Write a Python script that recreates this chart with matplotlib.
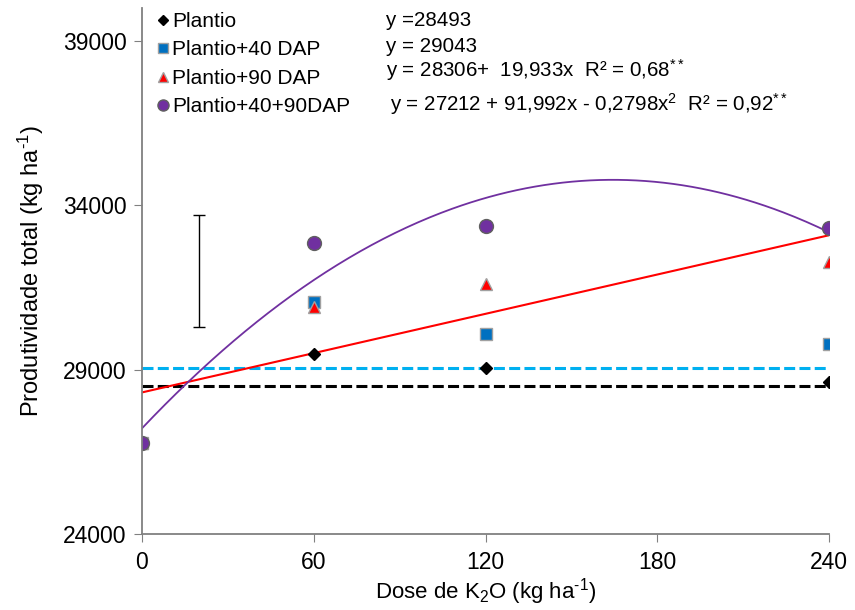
import numpy as np
import matplotlib
matplotlib.use('Agg')
from matplotlib import pyplot as plt

plt.rcParams['font.family'] = ['Liberation Sans', 'DejaVu Sans']
plt.rcParams['mathtext.fontset'] = 'custom'
plt.rcParams['mathtext.rm'] = 'Liberation Sans'
plt.rcParams['mathtext.it'] = 'Liberation Sans'

doses = [0, 60, 120, 240]
plantio = [26770, 29470, 29050, 28620]
plantio_40 = [26770, 31050, 30080, 29775]
plantio_90 = [26770, 30900, 31600, 32270]
plantio_40_90 = [26770, 32845, 33360, 33300]

labels = ['Plantio', 'Plantio+40 DAP', 'Plantio+90 DAP', 'Plantio+40+90DAP']
equations = ['y =28493',
             'y = 29043',
             'y = 28306+  19,933x  R² = 0,68$^{**}$',
             'y = 27212 + 91,992x - 0,2798x$^{2}$  R² = 0,92$^{**}$']

mean_plantio = 28493
mean_plantio_40 = 29043
lin_coef = [28306, 19.933]
quad_coef = [27212, 91.992, -0.2798]

# least significant difference bar
lsd_x = 20
lsd_center = 32000
lsd_half = 1700

gray = '#808080'

fig = plt.figure(figsize=(8.55, 6.1), dpi=100)
ax = fig.add_axes([0.166, 0.1246, 0.804, 0.8623])

xs = np.linspace(0, 240, 300)
dash = (0, (3.6, 1.4))
ax.plot([0, 240], [mean_plantio, mean_plantio], color='black', lw=2.2, ls=dash)
ax.plot([0, 240], [mean_plantio_40, mean_plantio_40], color='#00B0F0', lw=2.2, ls=dash)
ax.plot(xs, lin_coef[0] + lin_coef[1] * xs, color='#FF0000', lw=1.5)
ax.plot(xs, quad_coef[0] + quad_coef[1] * xs + quad_coef[2] * xs ** 2, color='#7030A0', lw=1.3)

ax.plot(doses, plantio, 'D', color='black', ms=6, ls='none', label=labels[0])
ax.plot(doses, plantio_40, 's', color='#0070C0', mec='#a0a0a0', ms=9, ls='none', label=labels[1])
ax.plot(doses, plantio_90, '^', color='#FF0000', mec='#a0a0a0', ms=9, ls='none', label=labels[2])
ax.plot(doses, plantio_40_90, 'o', color='#7030A0', mec='#606060', ms=10, ls='none', label=labels[3])

ax.errorbar([lsd_x], [lsd_center], yerr=[lsd_half], color='black', lw=1, capsize=4)

ax.set_xlim(0, 240)
ax.set_ylim(24000, 40000)
ax.set_xticks([0, 60, 120, 180, 240])
ax.set_yticks([24000, 29000, 34000, 39000])
ax.tick_params(axis='both', labelsize=16.5, color=gray, length=6, direction='out')
ax.tick_params(axis='x', pad=6)
ax.tick_params(axis='y', pad=5)
for side in ['top', 'right']:
    ax.spines[side].set_visible(False)
for side in ['left', 'bottom']:
    ax.spines[side].set_color(gray)
    ax.spines[side].set_linewidth(1.3)

ax.set_xlabel(r'Dose de K$_{2}$O (kg ha$^{\text{-1}}$)', fontsize=16, labelpad=2)
ax.set_ylabel(r'Produtividade total (kg ha$^{\text{-1}}$)', fontsize=17, labelpad=12)

ax.legend(loc='upper left', bbox_to_anchor=(-0.005, 1.02), frameon=False, fontsize=15,
          handletextpad=-0.1, labelspacing=0.45, handlelength=1.0, borderaxespad=0.3,
          markerscale=0.8)

eq_pos = [(386, 20), (386, 46), (386, 70), (390, 104)]
for (px, py), eq in zip(eq_pos, equations):
    fig.text(px / 855, 1 - py / 610, eq, fontsize=14.8, va='center', ha='left')

fig.savefig('out.png', dpi=100)
